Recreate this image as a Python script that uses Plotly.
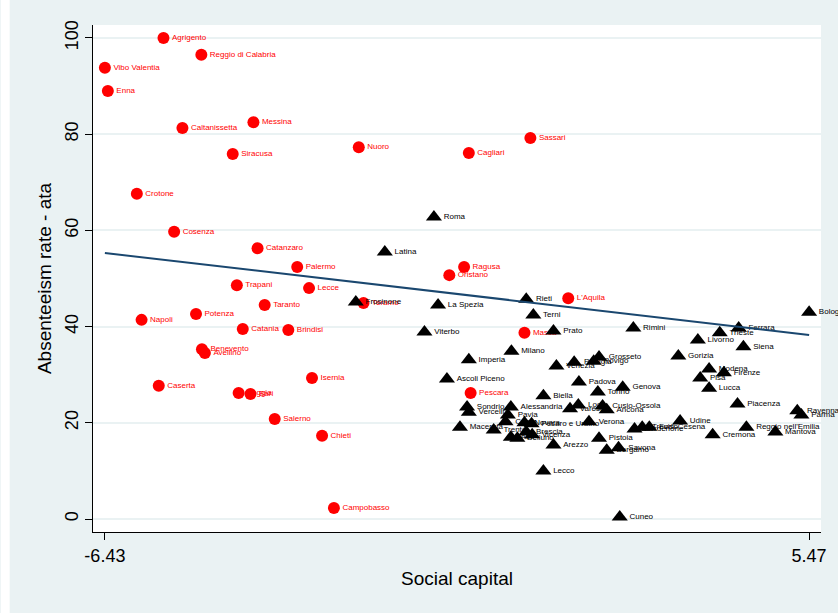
import numpy as np
import plotly.graph_objects as go

# Southern provinces (red circles)
south_names = ["Agrigento", "Reggio di Calabria", "Vibo Valentia", "Enna", "Caltanissetta",
               "Messina", "Siracusa", "Crotone", "Cosenza", "Catanzaro", "Palermo", "Trapani",
               "Lecce", "Taranto", "Napoli", "Potenza", "Catania", "Brindisi", "Benevento",
               "Avellino", "Caserta", "Foggia", "Bari", "Isernia", "Salerno", "Chieti",
               "Campobasso", "Nuoro", "Cagliari", "Sassari", "Ragusa", "Oristano", "Teramo",
               "L'Aquila", "Massa", "Pescara"]
south_x = [-5.44, -4.80, -6.43, -6.38, -5.12, -3.92, -4.27, -5.89, -5.26, -3.85, -3.18, -4.20,
           -2.98, -3.73, -5.81, -4.89, -4.10, -3.33, -4.79, -4.74, -5.52, -4.17, -3.97, -2.93,
           -3.56, -2.76, -2.56, -2.14, -0.28, 0.76, -0.36, -0.61, -2.06, 1.40, 0.66, -0.25]
south_y = [100.0, 96.5, 93.8, 89.0, 81.3, 82.5, 75.9, 67.6, 59.7, 56.3, 52.4, 48.6,
           48.0, 44.5, 41.4, 42.6, 39.5, 39.3, 35.3, 34.5, 27.7, 26.2, 26.0, 29.3,
           20.8, 17.3, 2.3, 77.3, 76.1, 79.2, 52.4, 50.7, 44.9, 45.9, 38.7, 26.2]

# Centre-north provinces (black triangles)
north_names = ["Roma", "Latina", "Frosinone", "La Spezia", "Rieti", "Terni", "Viterbo", "Prato",
               "Milano", "Imperia", "Ascoli Piceno", "Rimini", "Livorno", "Trieste", "Ferrara",
               "Siena", "Bologna", "Gorizia", "Modena", "Firenze", "Pisa", "Lucca", "Piacenza",
               "Ravenna", "Parma", "Reggio nell'Emilia", "Mantova", "Cremona", "Udine",
               "Pordenone", "Treviso", "Forlì-Cesena", "Venezia", "Perugia", "Rovigo",
               "Grosseto", "Padova", "Torino", "Genova", "Biella", "Varese", "Lodi",
               "Cusio-Ossola", "Ancona", "Verona", "Pistoia", "Bergamo", "Savona", "Belluno",
               "Sondrio", "Vercelli", "Macerata", "Alessandria", "Pavia", "Trento", "Como",
               "Novara", "Pesaro e Urbino", "Brescia", "Vicenza", "Asti", "Arezzo", "Lecco",
               "Cuneo"]
north_x = [-0.87, -1.70, -2.19, -0.80, 0.69, 0.81, -1.03, 1.15,
           0.44, -0.28, -0.65, 2.50, 3.59, 3.96, 4.28,
           4.36, 5.47, 3.26, 3.78, 4.03, 3.63, 3.78, 4.26,
           5.27, 5.34, 4.41, 4.90, 3.84, 3.29,
           2.52, 2.65, 2.77, 1.20, 1.50, 1.83,
           1.92, 1.58, 1.90, 2.32, 0.98, 1.43, 1.57,
           1.98, 2.05, 1.75, 1.92, 2.05, 2.25, 0.54,
           -0.31, -0.28, -0.43, 0.43, 0.38, 0.14, 0.34,
           0.66, 0.78, 0.69, 0.79, 0.43, 1.15, 0.98,
           2.27]
north_y = [62.8, 55.5, 45.1, 44.5, 45.7, 42.4, 38.9, 39.1,
           34.9, 33.1, 29.1, 39.7, 37.2, 38.7, 39.7,
           35.8, 43.0, 33.9, 31.2, 30.4, 29.3, 27.2, 23.9,
           22.5, 21.6, 19.1, 18.1, 17.5, 20.4,
           18.7, 19.1, 19.1, 31.8, 32.6, 32.8,
           33.7, 28.5, 26.4, 27.4, 25.6, 22.9, 23.7,
           23.5, 22.7, 20.2, 16.8, 14.3, 14.8, 16.8,
           23.3, 22.2, 19.1, 23.3, 21.6, 18.5, 20.2,
           20.0, 19.8, 18.1, 17.5, 17.0, 15.4, 10.0,
           0.4]

# Linear prediction of absenteeism on social capital: intercept, slope
fit_coef = [46.1, -1.43]

x_ticks = [-6.43, 5.47]
y_ticks = [0, 20, 40, 60, 80, 100]

FONT = "Liberation Sans, Arial, Helvetica, sans-serif"
GRID = "#eaf2f3"

# fitted line spans the observed range of social capital
all_x = np.array(south_x + north_x)
fit_x = np.array([all_x.min(), all_x.max()])
fit_y = fit_coef[0] + fit_coef[1] * fit_x

fig = go.Figure()

fig.add_trace(go.Scatter(
    x=south_x, y=south_y, text=south_names, mode="markers+text",
    textposition="middle right",
    marker=dict(symbol="circle", size=12, color="#ff0000", line=dict(width=0)),
    textfont=dict(family=FONT, size=8, color="#ff0000"),
    cliponaxis=False, showlegend=False,
))

fig.add_trace(go.Scatter(
    x=north_x, y=north_y, text=north_names, mode="markers+text",
    textposition="middle right",
    marker=dict(symbol="triangle-up", size=14, color="#000000", line=dict(width=0)),
    textfont=dict(family=FONT, size=8, color="#000000"),
    cliponaxis=False, showlegend=False,
))

fig.add_trace(go.Scatter(
    x=fit_x, y=fit_y, mode="lines",
    line=dict(color="#1a476f", width=2),
    showlegend=False,
))

W, H = 838, 613
ML, MR, MT, MB = 93, 11, 25, 81
PW, PH = W - ML - MR, H - MT - MB

# thin white strip along the left edge of the graph region
fig.add_shape(type="rect", xref="paper", yref="paper",
              x0=-ML / PW, x1=-(ML - 9) / PW, y0=-MB / PH, y1=1 + MT / PH,
              fillcolor="white", line=dict(width=0), layer="below")

fig.update_layout(
    width=W, height=H,
    margin=dict(l=ML, r=MR, t=MT, b=MB),
    paper_bgcolor=GRID, plot_bgcolor="white",
    font=dict(family=FONT, color="black"),
    xaxis=dict(
        range=[-6.631, 5.671], tickvals=x_ticks, ticktext=["-6.43", "5.47"],
        showgrid=False, zeroline=False, showline=True, linecolor="black", linewidth=1,
        ticks="outside", ticklen=7, tickcolor="black",
        tickfont=dict(size=18),
        title=dict(text="Social capital", font=dict(size=19), standoff=7),
    ),
    yaxis=dict(
        range=[-2.70, 102.70], tickvals=y_ticks,
        showgrid=True, gridcolor=GRID, gridwidth=2, zeroline=False,
        showline=True, linecolor="black", linewidth=1,
        ticks="outside", ticklen=7, tickcolor="black",
        tickangle=-90, tickfont=dict(size=18),
        title=dict(text="Absenteeism rate - ata", font=dict(size=19), standoff=5),
    ),
)

fig.write_html("out.html")
